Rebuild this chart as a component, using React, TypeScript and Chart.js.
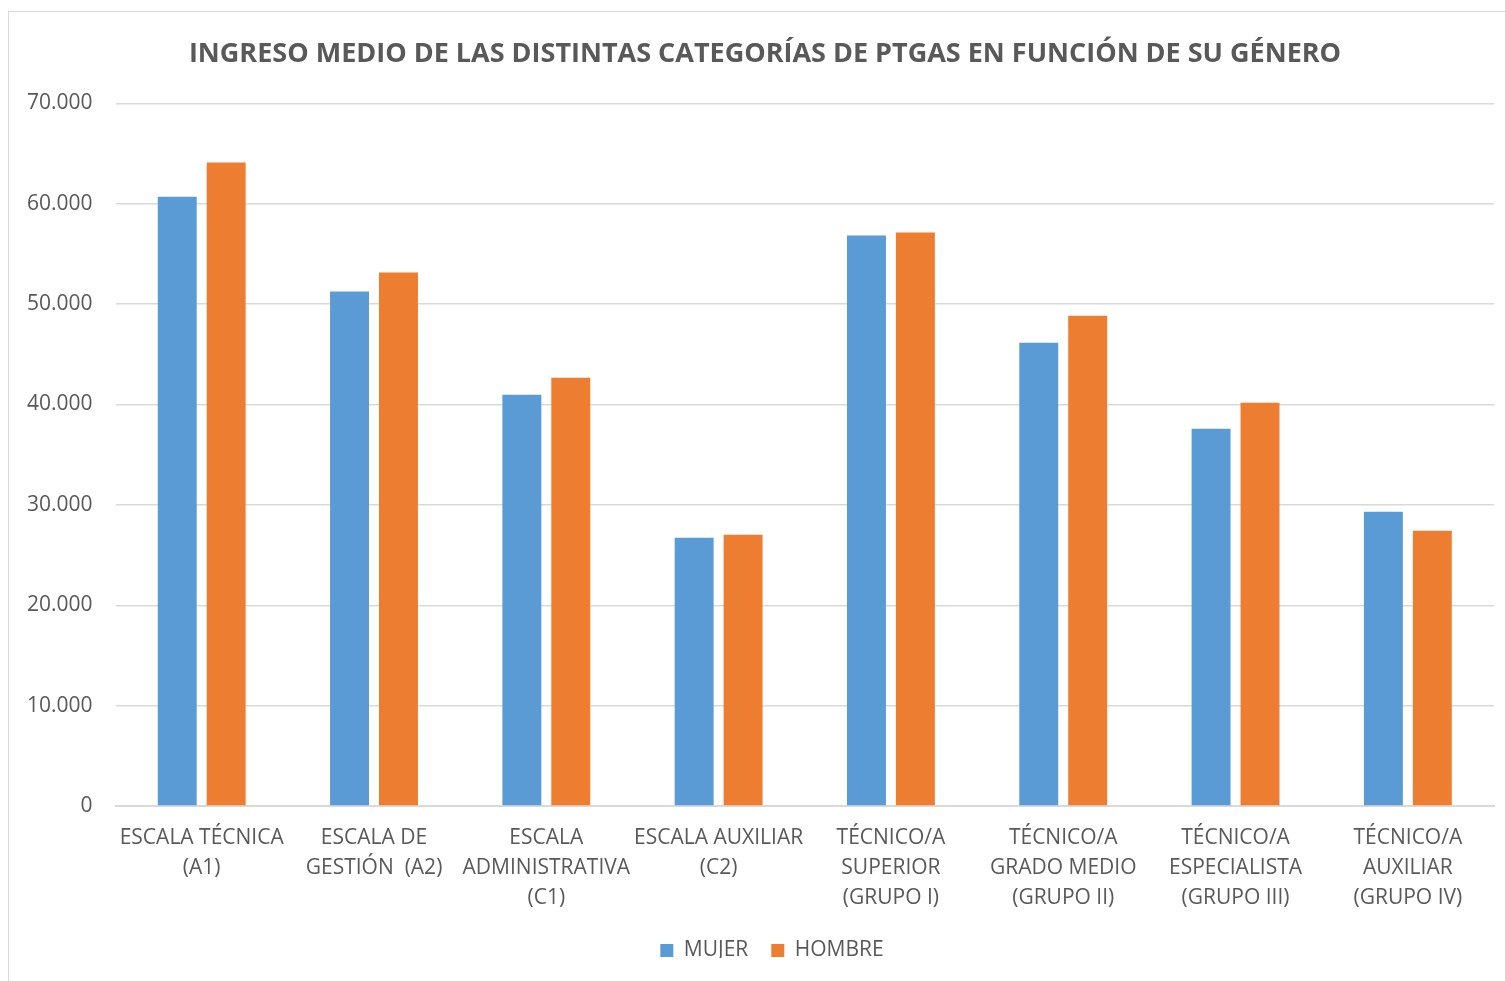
import React, { useEffect, useRef } from "react";
import { Chart, registerables } from "chart.js";

Chart.register(...registerables);

const categories: string[][] = [
  ["ESCALA TÉCNICA", "(A1)"],
  ["ESCALA DE", "GESTIÓN  (A2)"],
  ["ESCALA", "ADMINISTRATIVA", "(C1)"],
  ["ESCALA AUXILIAR", "(C2)"],
  ["TÉCNICO/A", "SUPERIOR", "(GRUPO I)"],
  ["TÉCNICO/A", "GRADO MEDIO", "(GRUPO II)"],
  ["TÉCNICO/A", "ESPECIALISTA", "(GRUPO III)"],
  ["TÉCNICO/A", "AUXILIAR", "(GRUPO IV)"],
];

const mujer: number[] = [60700, 51250, 40980, 26720, 56830, 46160, 37590, 29310];
const hombre: number[] = [64100, 53150, 42670, 27020, 57130, 48850, 40180, 27420];

const titleText = "INGRESO MEDIO DE LAS DISTINTAS CATEGORÍAS DE PTGAS EN FUNCIÓN DE SU GÉNERO";
const seriesNames = ["MUJER", "HOMBRE"];

const FONT = "'Open Sans', sans-serif";
const TEXT = "#595959";

function fmt(v: number): string {
  return String(Math.round(v)).replace(/\B(?=(\d{3})+(?!\d))/g, ".");
}

// Excel centres title and legend slightly right of the canvas centre
const shiftBlocks = {
  id: "shiftBlocks",
  afterLayout(chart: any) {
    const t = chart.titleBlock;
    if (t) {
      t.left += 16;
      t.right += 16;
    }
    const l = chart.legend;
    if (l) {
      l.left += 23;
      l.right += 23;
      l.top -= 13;
      l.bottom -= 13;
    }
  },
};

export default function App() {
  const ref = useRef<HTMLCanvasElement | null>(null);

  useEffect(() => {
    if (!ref.current) return;
    const chart = new Chart(ref.current, {
      type: "bar",
      data: {
        labels: categories,
        datasets: [
          {
            label: seriesNames[0],
            data: mujer,
            backgroundColor: "#5B9BD5",
            categoryPercentage: 0.568,
            barPercentage: 0.796,
          },
          {
            label: seriesNames[1],
            data: hombre,
            backgroundColor: "#ED7D31",
            categoryPercentage: 0.568,
            barPercentage: 0.796,
          },
        ],
      },
      plugins: [shiftBlocks],
      options: {
        animation: false,
        responsive: false,
        maintainAspectRatio: false,
        layout: { padding: { left: 4, right: 11, top: 38, bottom: 10 } },
        plugins: {
          title: {
            display: true,
            text: titleText,
            color: TEXT,
            font: { family: FONT, size: 27, weight: "bold" },
            padding: { top: 0, bottom: 33 },
          },
          legend: {
            position: "bottom",
            maxHeight: 41,
            labels: {
              color: TEXT,
              font: { family: FONT, size: 21 },
              boxWidth: 13,
              boxHeight: 13,
              padding: 23,
              useBorderRadius: false,
            },
          },
          tooltip: { enabled: false },
        },
        scales: {
          x: {
            grid: { display: false, drawTicks: false },
            border: { display: true, color: "#D9D9D9", width: 2 },
            ticks: {
              color: TEXT,
              font: { family: FONT, size: 21, lineHeight: 30 / 21 },
              padding: 17,
              maxRotation: 0,
              autoSkip: false,
            },
          },
          y: {
            min: 0,
            max: 70000,
            grid: { color: "#D9D9D9", lineWidth: 1.5, drawTicks: false },
            border: { display: false },
            ticks: {
              stepSize: 10000,
              color: TEXT,
              font: { family: FONT, size: 21 },
              padding: 23,
              callback: (v: any) => fmt(Number(v)),
            },
          },
        },
      },
    });
    return () => chart.destroy();
  }, []);

  return (
    <div
      style={{
        position: "absolute",
        left: 0,
        top: 0,
        width: 1505,
        height: 981,
        overflow: "hidden",
        background: "#fff",
      }}
    >
      <div
        style={{
          position: "absolute",
          left: 8,
          top: 11,
          width: 1600,
          height: 1100,
          border: "1.5px solid #D9D9D9",
        }}
      />
      <canvas
        ref={ref}
        width={1505}
        height={981}
        style={{ position: "absolute", left: 0, top: 0, width: 1505, height: 981 }}
      />
    </div>
  );
}
